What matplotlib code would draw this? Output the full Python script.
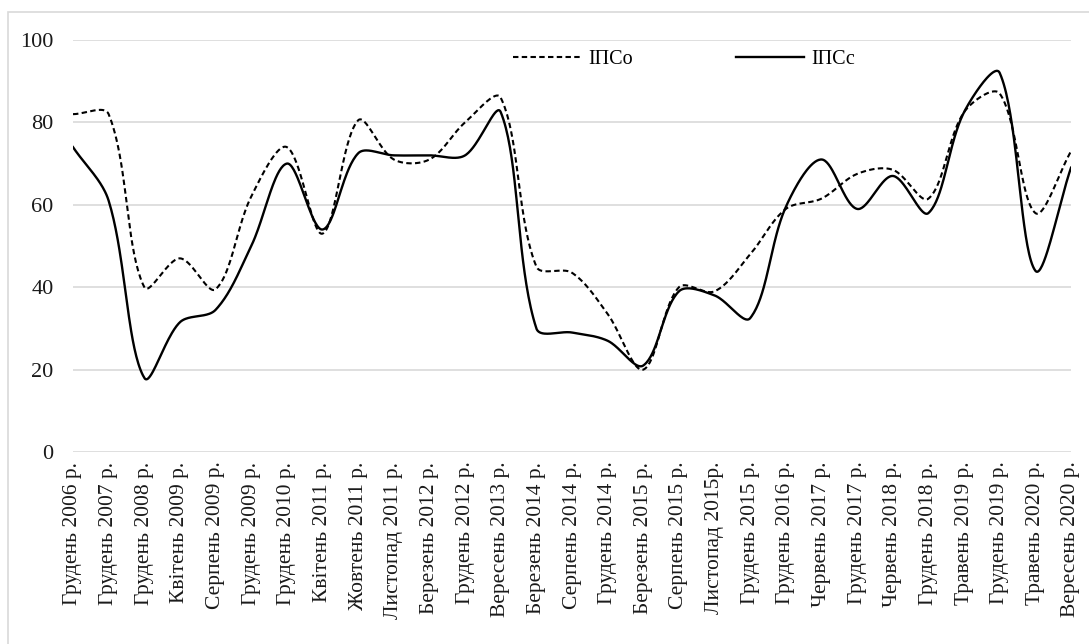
import matplotlib.pyplot as plt
import numpy as np
from matplotlib.patches import Rectangle

categories = [
    "Грудень 2006 р.", "Грудень 2007 р.", "Грудень 2008 р.", "Квітень 2009 р.",
    "Серпень 2009 р.", "Грудень 2009 р.", "Грудень 2010 р.", "Квітень 2011 р.",
    "Жовтень 2011 р.", "Листопад 2011 р.", "Березень 2012 р.", "Грудень 2012 р.",
    "Вересень 2013 р.", "Березень 2014 р.", "Серпень 2014 р.", "Грудень 2014 р.",
    "Березень 2015 р.", "Серпень 2015 р.", "Листопад 2015р.", "Грудень 2015 р.",
    "Грудень 2016 р.", "Червень 2017 р.", "Грудень 2017 р.", "Червень 2018 р.",
    "Грудень 2018 р.", "Травень 2019 р.", "Грудень 2019 р.", "Травень 2020 р.",
    "Вересень 2020 р.",
]
ipso = [82, 82, 40, 47, 39.5, 62, 74, 53, 80.5, 71, 71, 80, 86, 45, 43.5,
        33.5, 20, 40, 39, 48, 59, 61.5, 67.5, 68.5, 61.5, 82.5, 87, 58, 73]
ipsc = [74, 61, 18, 31.5, 34.5, 50, 70, 54, 72.5, 72, 72, 72, 82.5, 30, 29,
        27, 21, 39, 38, 32.5, 59.5, 71, 59, 67, 58, 82.5, 92, 44, 69]

# size of one category step and one value unit on screen (px)
X_PX = 998 / 28
Y_PX = 412 / 100


def smooth(xs, ys, k=1 / 3, n=40):
    # Excel-like smoothed line: Bezier segments, tangent along neighbour chord,
    # split in proportion to the adjacent segment lengths
    p = np.column_stack([np.asarray(xs, float) * X_PX, np.asarray(ys, float) * Y_PX])
    m = len(p)
    fwd = np.zeros_like(p)
    back = np.zeros_like(p)
    for i in range(m):
        a = p[max(i - 1, 0)]
        b = p[min(i + 1, m - 1)]
        chord = b - a
        d0 = np.hypot(*(p[i] - a))
        d1 = np.hypot(*(b - p[i]))
        fwd[i] = chord * k * d1 / (d0 + d1)
        back[i] = chord * k * d0 / (d0 + d1)
    t = np.linspace(0, 1, n)[:, None]
    out = []
    for i in range(m - 1):
        p0, p3 = p[i], p[i + 1]
        p1 = p0 + fwd[i]
        p2 = p3 - back[i + 1]
        out.append(((1 - t) ** 3) * p0 + 3 * ((1 - t) ** 2) * t * p1
                   + 3 * (1 - t) * t ** 2 * p2 + t ** 3 * p3)
    pts = np.vstack(out)
    return pts[:, 0] / X_PX, pts[:, 1] / Y_PX


def main() -> None:
    plt.rcParams.update({"font.family": ["Liberation Serif", "DejaVu Serif"], "font.size": 15})

    fig = plt.figure(figsize=(10.89, 6.44), dpi=100)
    ax = fig.add_axes([73 / 1089, 1 - 452 / 644, 998 / 1089, 412 / 644])

    # chart area border (light grey)
    fig.patches.append(Rectangle((8 / 1089, -0.1), 1.2, 1 - 12 / 644 + 0.1,
                                 transform=fig.transFigure, fill=False,
                                 edgecolor="#d9d9d9", linewidth=1.2))

    xs = np.arange(len(categories))
    sx, sy = smooth(xs, ipso)
    ax.plot(sx, sy, color="black", linewidth=1.5, linestyle=(0, (2.6, 1.6)), label="ІПСо")
    sx, sy = smooth(xs, ipsc)
    ax.plot(sx, sy, color="black", linewidth=1.7, label="ІПСс")

    ax.set_xlim(0, len(categories) - 1)
    ax.set_ylim(0, 100)
    ax.set_yticks(np.arange(0, 101, 20))
    ax.set_xticks(xs)
    ax.set_xticklabels(categories, rotation=90, fontsize=15.5)
    ax.tick_params(axis="both", length=0, colors="#1a1a1a")
    ax.tick_params(axis="y", pad=14, labelsize=16)
    ax.tick_params(axis="x", pad=7)
    ax.grid(axis="y", color="#d9d9d9", linewidth=1.2)
    ax.set_axisbelow(True)
    for side in ["top", "right", "left", "bottom"]:
        ax.spines[side].set_visible(False)

    ax.legend(loc="center", bbox_to_anchor=(0.612, 0.952), ncol=2, frameon=False,
              handlelength=3.4, handletextpad=0.35, columnspacing=5.1, fontsize=14.5)

    fig.savefig("out.png", dpi=100)
    plt.close(fig)


if __name__ == "__main__":
    main()
